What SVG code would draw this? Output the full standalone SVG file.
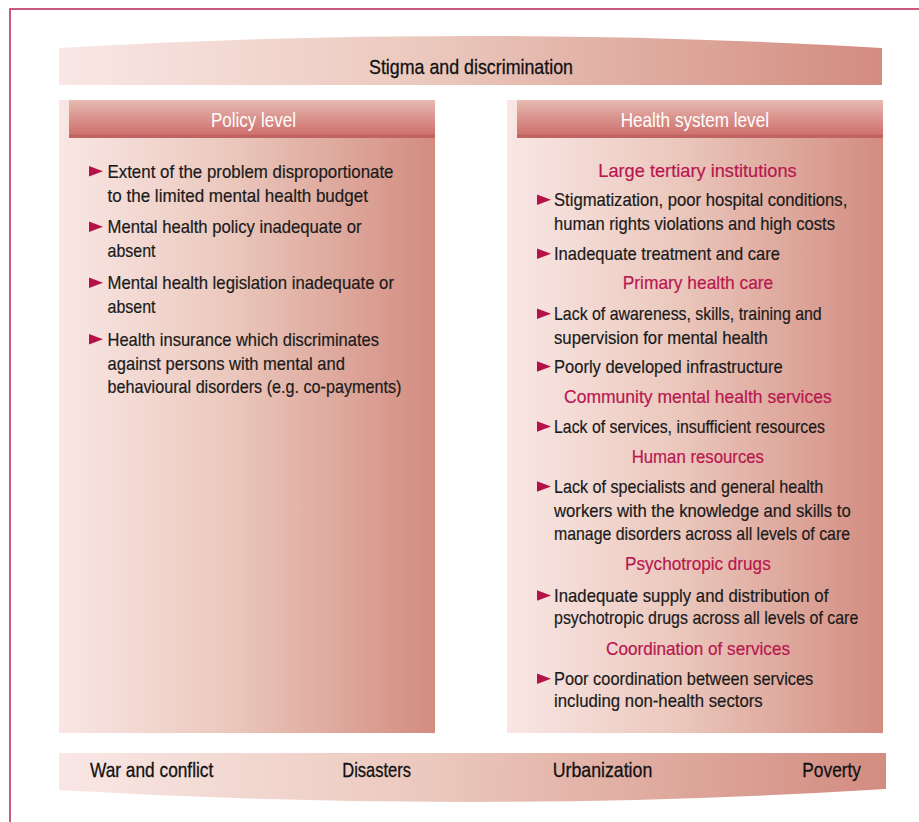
<svg xmlns="http://www.w3.org/2000/svg" width="919" height="822" viewBox="0 0 919 822">
<defs>
<linearGradient id="hg" x1="0" y1="0" x2="1" y2="0">
<stop offset="0" stop-color="#f9e7e5"/>
<stop offset="0.45" stop-color="#ebc8bd"/>
<stop offset="1" stop-color="#d38c80"/>
</linearGradient>
<linearGradient id="hd" x1="0" y1="0" x2="0" y2="1">
<stop offset="0" stop-color="#e8bcb4"/>
<stop offset="0.5" stop-color="#d8908a"/>
<stop offset="0.9" stop-color="#d07270"/>
<stop offset="0.92" stop-color="#bf6462"/>
<stop offset="1" stop-color="#bf6462"/>
</linearGradient>
<path id="tri" d="M0,-11.5 L0,-1 L14,-6.2 Z" fill="#b5124a"/>
<style>
text{font-family:"Liberation Sans",Arial,sans-serif;}
.b{font-size:19px;fill:#1a1a1a;stroke:#1a1a1a;stroke-width:0.2;}
.r{font-size:19px;fill:#b8164f;stroke:#b8164f;stroke-width:0.2;}
.w{font-size:21px;fill:#ffffff;}
.k{font-size:21px;fill:#111111;stroke:#111111;stroke-width:0.3;}
</style>
</defs>
<rect x="10" y="9" width="1000" height="1000" fill="none" stroke="#c2305f" stroke-width="1.6"/>
<g id="stigma">
<path d="M59,48 Q470,24 882,48 L882,85 L59,85 Z" fill="url(#hg)"/>
<text class="k" x="369" y="74" textLength="204" lengthAdjust="spacingAndGlyphs">Stigma and discrimination</text>
</g>
<g id="policy">
<rect x="59" y="100" width="376" height="633" fill="url(#hg)"/>
<rect x="69" y="100" width="366" height="38" fill="url(#hd)"/>
<text class="w" x="211" y="127" textLength="85" lengthAdjust="spacingAndGlyphs">Policy level</text>
<use href="#tri" x="89" y="177.5"/>
<use href="#tri" x="89" y="233"/>
<use href="#tri" x="89" y="289"/>
<use href="#tri" x="89" y="345.5"/>
<text class="b" x="107.5" y="177.5" textLength="286" lengthAdjust="spacingAndGlyphs">Extent of the problem disproportionate</text>
<text class="b" x="107.5" y="201.5" textLength="260.5" lengthAdjust="spacingAndGlyphs">to the limited mental health budget</text>
<text class="b" x="107.5" y="233" textLength="254" lengthAdjust="spacingAndGlyphs">Mental health policy inadequate or</text>
<text class="b" x="107.5" y="257" textLength="48" lengthAdjust="spacingAndGlyphs">absent</text>
<text class="b" x="107.5" y="289" textLength="286.5" lengthAdjust="spacingAndGlyphs">Mental health legislation inadequate or</text>
<text class="b" x="107.5" y="313" textLength="48" lengthAdjust="spacingAndGlyphs">absent</text>
<text class="b" x="107.5" y="345.5" textLength="271.5" lengthAdjust="spacingAndGlyphs">Health insurance which discriminates</text>
<text class="b" x="107.5" y="369.5" textLength="237.5" lengthAdjust="spacingAndGlyphs">against persons with mental and</text>
<text class="b" x="107.5" y="393" textLength="294" lengthAdjust="spacingAndGlyphs">behavioural disorders (e.g. co-payments)</text>
</g>
<g id="health">
<rect x="507" y="100" width="376" height="633" fill="url(#hg)"/>
<rect x="517" y="100" width="366" height="38" fill="url(#hd)"/>
<text class="w" x="620.7" y="127" textLength="148.3" lengthAdjust="spacingAndGlyphs">Health system level</text>
<text class="r" x="598.3" y="176.7" textLength="198.4" lengthAdjust="spacingAndGlyphs">Large tertiary institutions</text>
<use href="#tri" x="537" y="206"/>
<text class="b" x="554" y="206" textLength="293.3" lengthAdjust="spacingAndGlyphs">Stigmatization, poor hospital conditions,</text>
<text class="b" x="554" y="229.5" textLength="281" lengthAdjust="spacingAndGlyphs">human rights violations and high costs</text>
<use href="#tri" x="537" y="260"/>
<text class="b" x="554" y="260" textLength="226" lengthAdjust="spacingAndGlyphs">Inadequate treatment and care</text>
<text class="r" x="622.7" y="288.5" textLength="150.6" lengthAdjust="spacingAndGlyphs">Primary health care</text>
<use href="#tri" x="537" y="320"/>
<text class="b" x="554" y="320" textLength="267.7" lengthAdjust="spacingAndGlyphs">Lack of awareness, skills, training and</text>
<text class="b" x="554" y="343.5" textLength="213.7" lengthAdjust="spacingAndGlyphs">supervision for mental health</text>
<use href="#tri" x="537" y="372.7"/>
<text class="b" x="554" y="372.7" textLength="228.7" lengthAdjust="spacingAndGlyphs">Poorly developed infrastructure</text>
<text class="r" x="564" y="403.3" textLength="267.7" lengthAdjust="spacingAndGlyphs">Community mental health services</text>
<use href="#tri" x="537" y="432.7"/>
<text class="b" x="554" y="432.7" textLength="271" lengthAdjust="spacingAndGlyphs">Lack of services, insufficient resources</text>
<text class="r" x="631.7" y="463.3" textLength="132.3" lengthAdjust="spacingAndGlyphs">Human resources</text>
<use href="#tri" x="537" y="492.7"/>
<text class="b" x="554" y="492.7" textLength="269.3" lengthAdjust="spacingAndGlyphs">Lack of specialists and general health</text>
<text class="b" x="554" y="516.7" textLength="296.7" lengthAdjust="spacingAndGlyphs">workers with the knowledge and skills to</text>
<text class="b" x="554" y="540" textLength="296" lengthAdjust="spacingAndGlyphs">manage disorders across all levels of care</text>
<text class="r" x="625" y="570" textLength="145.7" lengthAdjust="spacingAndGlyphs">Psychotropic drugs</text>
<use href="#tri" x="537" y="601.7"/>
<text class="b" x="554" y="601.7" textLength="274.3" lengthAdjust="spacingAndGlyphs">Inadequate supply and distribution of</text>
<text class="b" x="554" y="624" textLength="304.3" lengthAdjust="spacingAndGlyphs">psychotropic drugs across all levels of care</text>
<text class="r" x="606" y="655" textLength="184" lengthAdjust="spacingAndGlyphs">Coordination of services</text>
<use href="#tri" x="537" y="685"/>
<text class="b" x="554" y="685" textLength="259.3" lengthAdjust="spacingAndGlyphs">Poor coordination between services</text>
<text class="b" x="554" y="706.7" textLength="208.7" lengthAdjust="spacingAndGlyphs">including non-health sectors</text>
</g>
<g id="determinants">
<path d="M59,753 L886,753 L886,789 Q472,814.5 59,790 Z" fill="url(#hg)"/>
<text class="k" x="90" y="776.7" textLength="123.3" lengthAdjust="spacingAndGlyphs">War and conflict</text>
<text class="k" x="342.3" y="776.7" textLength="68.7" lengthAdjust="spacingAndGlyphs">Disasters</text>
<text class="k" x="552.7" y="776.7" textLength="99.6" lengthAdjust="spacingAndGlyphs">Urbanization</text>
<text class="k" x="802.3" y="776.7" textLength="58.7" lengthAdjust="spacingAndGlyphs">Poverty</text>
</g>
<g id="connectors"/>
</svg>
